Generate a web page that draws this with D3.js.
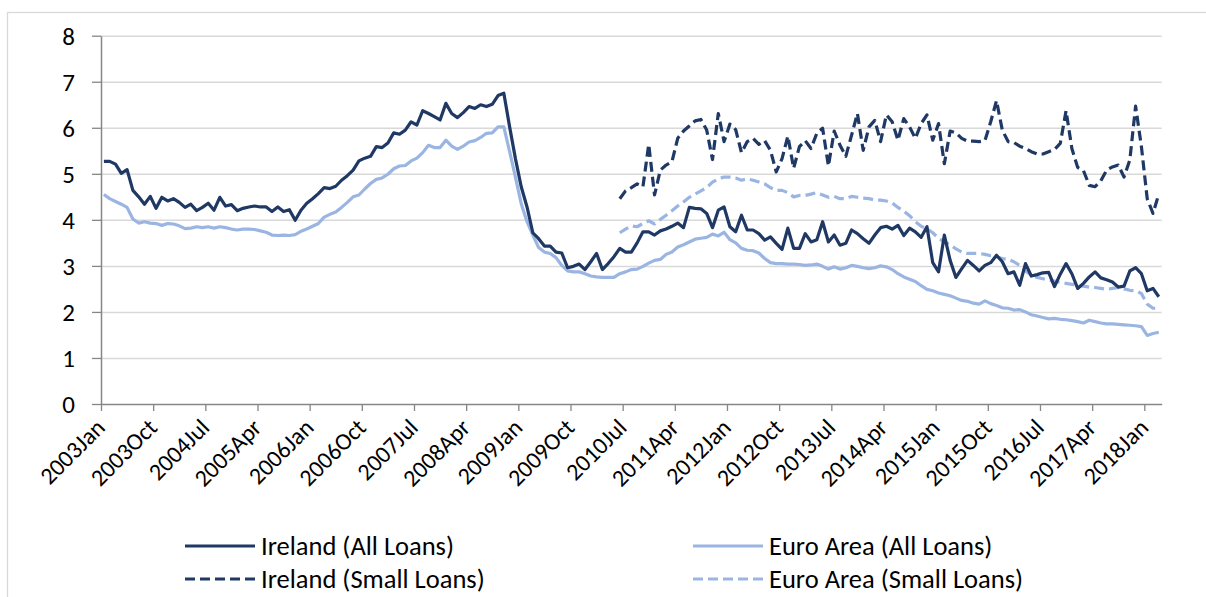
<!DOCTYPE html>
<html lang="en">
<head>
<meta charset="UTF-8">
<title>Interest rates on new loans</title>
<style>
  body { margin: 0; padding: 0; background: #fff; }
  svg text { font-family: Carlito, Lato, "Noto Sans", sans-serif; fill: #000; }
</style>
</head>
<body>
<div id="chart"></div>
<script src="https://cdn.jsdelivr.net/npm/d3@7"></script>
<script>
// monthly categories 2003Jan .. 2018Mar
const monthNames = ['Jan','Feb','Mar','Apr','May','Jun','Jul','Aug','Sep','Oct','Nov','Dec'];
const months = d3.range(183).map(i => (2003 + Math.floor(i / 12)) + monthNames[i % 12]);

const tickLabels = ['2003Jan','2003Oct','2004Jul','2005Apr','2006Jan','2006Oct','2007Jul',
  '2008Apr','2009Jan','2009Oct','2010Jul','2011Apr','2012Jan','2012Oct','2013Jul','2014Apr',
  '2015Jan','2015Oct','2016Jul','2017Apr','2018Jan'];
const yTicks = [0, 1, 2, 3, 4, 5, 6, 7, 8];

const irelandAll = [
  5.27,5.27,5.21,5.01,5.09,4.64,4.50,4.34,4.51,4.25,4.49,4.41,4.46,4.38,4.27,4.34,4.20,4.27,4.36,4.21,4.49,4.30,4.33,4.20,4.25,4.28,
  4.30,4.28,4.28,4.18,4.28,4.18,4.22,3.99,4.21,4.36,4.46,4.57,4.70,4.68,4.73,4.86,4.96,5.08,5.28,5.34,5.38,5.59,5.57,5.67,5.89,5.86,
  5.95,6.13,6.06,6.37,6.31,6.24,6.17,6.53,6.31,6.22,6.33,6.46,6.42,6.50,6.46,6.51,6.70,6.75,6.02,5.33,4.72,4.28,3.72,3.59,3.43,3.43,
  3.30,3.28,2.96,2.99,3.04,2.92,3.09,3.27,2.92,3.05,3.20,3.38,3.30,3.30,3.50,3.74,3.74,3.67,3.76,3.80,3.86,3.93,3.83,4.27,4.25,4.24,
  4.14,3.83,4.21,4.28,3.85,3.74,4.10,3.78,3.78,3.70,3.56,3.63,3.49,3.36,3.82,3.38,3.38,3.70,3.52,3.57,3.96,3.52,3.67,3.45,3.49,
  3.78,3.70,3.59,3.49,3.67,3.83,3.86,3.80,3.88,3.66,3.82,3.74,3.62,3.85,3.07,2.87,3.67,3.12,2.75,2.94,3.12,3.01,2.89,3.01,3.07,3.23,
  3.09,2.83,2.87,2.58,3.05,2.78,2.81,2.85,2.86,2.55,2.82,3.05,2.83,2.51,2.62,2.76,2.87,2.74,2.70,2.65,2.54,2.56,2.89,2.96,2.83,2.46,2.51,2.33
];

const euroAll = [
  4.55,4.46,4.40,4.34,4.27,4.02,3.93,3.96,3.93,3.92,3.88,3.92,3.91,3.87,3.81,3.82,3.85,3.83,3.85,3.82,3.85,3.83,3.80,3.78,3.80,3.80,
  3.79,3.76,3.73,3.67,3.66,3.67,3.66,3.68,3.75,3.80,3.86,3.92,4.06,4.12,4.17,4.27,4.38,4.50,4.54,4.67,4.79,4.88,4.91,4.99,5.11,5.17,
  5.18,5.28,5.34,5.46,5.62,5.57,5.57,5.73,5.60,5.53,5.60,5.69,5.72,5.79,5.88,5.89,6.02,6.02,5.48,4.93,4.35,3.96,3.67,3.40,3.30,3.27,
  3.18,3.01,2.89,2.87,2.87,2.83,2.78,2.76,2.75,2.75,2.75,2.83,2.87,2.92,2.93,2.99,3.06,3.12,3.14,3.25,3.30,3.41,3.46,3.52,3.58,3.60,
  3.62,3.69,3.65,3.73,3.57,3.50,3.38,3.34,3.33,3.28,3.16,3.07,3.05,3.05,3.04,3.04,3.03,3.01,3.02,3.04,2.99,2.93,2.98,2.93,2.96,
  3.01,2.99,2.96,2.94,2.96,3.00,2.98,2.92,2.83,2.76,2.71,2.66,2.57,2.49,2.46,2.41,2.38,2.35,2.30,2.25,2.23,2.19,2.17,2.24,2.18,2.14,
  2.09,2.08,2.04,2.05,2.00,1.94,1.91,1.88,1.85,1.86,1.84,1.83,1.81,1.79,1.76,1.82,1.79,1.76,1.74,1.74,1.73,1.72,1.71,1.70,1.68,1.49,1.53,1.56
];

// small-loan series start in 2010Jun
const smallStart = '2010Jun';
const irelandSmall = [
  4.46,4.63,4.70,4.78,4.72,5.64,4.54,5.08,5.19,5.26,5.77,5.93,6.04,6.15,6.18,
  5.95,5.31,6.31,5.70,6.08,5.96,5.46,5.70,5.77,5.64,5.72,5.51,5.04,5.33,5.82,5.12,5.59,5.72,5.55,5.88,5.99,5.17,5.93,5.62,5.38,
  5.84,6.31,5.51,6.02,6.16,5.70,6.28,6.13,5.73,6.20,6.02,5.77,6.09,6.28,5.73,6.09,5.22,5.93,5.89,5.77,5.71,5.71,5.70,5.72,6.13,6.59,
  5.95,5.70,5.68,5.60,5.55,5.48,5.43,5.43,5.48,5.53,5.66,6.37,5.55,5.14,5.07,4.75,4.72,4.85,5.08,5.15,5.19,4.93,5.30,6.47,5.59,4.46,4.14,4.56
];
const euroSmall = [
  3.72,3.80,3.87,3.85,3.92,3.98,3.91,4.01,4.10,4.20,4.30,4.39,4.49,4.56,4.63,
  4.70,4.82,4.89,4.93,4.93,4.91,4.86,4.89,4.86,4.82,4.78,4.70,4.64,4.64,4.59,4.50,4.53,4.53,4.56,4.59,4.54,4.49,4.51,4.46,4.46,
  4.51,4.49,4.47,4.46,4.43,4.43,4.41,4.37,4.27,4.19,4.09,3.96,3.86,3.81,3.72,3.60,3.52,3.46,3.37,3.30,3.27,3.27,3.27,3.25,3.22,3.20,
  3.16,3.14,3.09,3.01,2.89,2.80,2.75,2.72,2.69,2.67,2.64,2.62,2.60,2.57,2.56,2.54,2.53,2.51,2.49,2.51,2.53,2.50,2.47,2.46,2.40,2.17,2.08,2.08
];

const seriesNames = ['Ireland (All Loans)', 'Euro Area (All Loans)', 'Ireland (Small Loans)', 'Euro Area (Small Loans)'];

const darkBlue = '#1f3864';
const lightBlue = '#9bb5e3';
const gridColor = '#d9d9d9';
const axisColor = '#868686';

const W = 1206, H = 597;
const plotLeft = 101, plotRight = 1161.7, plotTop = 35.7, plotBottom = 404;

const svg = d3.select('#chart').append('svg')
  .attr('width', W).attr('height', H);

// outer chart frame
svg.append('rect')
  .attr('x', 7.5).attr('y', 12.5)
  .attr('width', 1300).attr('height', 700)
  .attr('fill', 'none').attr('stroke', gridColor).attr('stroke-width', 1.3);

const x = d3.scaleBand().domain(months).range([plotLeft, plotRight]).padding(0);
const xIdx = d3.scaleLinear().domain([0, months.length]).range([plotLeft, plotRight]);
const y = d3.scaleLinear().domain([0, 8]).range([plotBottom, plotTop]);
const bw = x.bandwidth();

// gridlines
svg.append('g')
  .attr('transform', `translate(${plotLeft},0)`)
  .call(d3.axisLeft(y).tickValues(yTicks.slice(1)).tickSize(-(plotRight - plotLeft)).tickFormat(''))
  .call(g => g.select('.domain').remove())
  .selectAll('line').attr('stroke', gridColor).attr('stroke-width', 1.5);

// y axis
const yAxis = svg.append('g')
  .attr('transform', `translate(${plotLeft},0)`)
  .call(d3.axisLeft(y).tickValues(yTicks).tickSize(9).tickPadding(17).tickSizeOuter(0));
yAxis.select('.domain').attr('stroke', axisColor).attr('stroke-width', 1.5);
yAxis.selectAll('line').attr('stroke', axisColor).attr('stroke-width', 1.3);
yAxis.selectAll('text').style('font-size', '25px').attr('dy', '0.35em');

// x axis
const xAxis = svg.append('g')
  .attr('transform', `translate(0,${plotBottom})`)
  .call(d3.axisBottom(xIdx)
    .tickValues(tickLabels.map(l => months.indexOf(l)))
    .tickFormat(i => months[i])
    .tickSize(7).tickSizeOuter(0));
xAxis.select('.domain').attr('stroke', axisColor).attr('stroke-width', 1.5);
xAxis.selectAll('line').attr('stroke', axisColor).attr('stroke-width', 1.3);
xAxis.selectAll('text')
  .style('font-size', '24px')
  .style('text-anchor', 'end')
  .attr('x', 0).attr('y', 0).attr('dy', 0)
  .attr('transform', 'translate(5,25) rotate(-45)');

// lines
const line = d3.line()
  .defined(d => d.v != null)
  .x(d => x(d.m) + bw / 2)
  .y(d => y(d.v));

const startIdx = months.indexOf(smallStart);
const toPoints = (vals, offset) => vals.map((v, i) => ({ m: months[i + offset], v: v }));

const series = [
  { name: seriesNames[1], pts: toPoints(euroAll, 0), color: lightBlue, dash: null },
  { name: seriesNames[3], pts: toPoints(euroSmall, startIdx), color: lightBlue, dash: '10,5' },
  { name: seriesNames[0], pts: toPoints(irelandAll, 0), color: darkBlue, dash: null },
  { name: seriesNames[2], pts: toPoints(irelandSmall, startIdx), color: darkBlue, dash: '10,5' }
];

svg.append('g').selectAll('path')
  .data(series)
  .join('path')
  .attr('d', d => line(d.pts))
  .attr('fill', 'none')
  .attr('stroke', d => d.color)
  .attr('stroke-width', 3.2)
  .attr('stroke-linejoin', 'round')
  .attr('stroke-dasharray', d => d.dash);

// legend
const legendItems = [
  { name: seriesNames[0], color: darkBlue, dash: null, x: 185, y: 546 },
  { name: seriesNames[1], color: lightBlue, dash: null, x: 693, y: 546 },
  { name: seriesNames[2], color: darkBlue, dash: '10,5', x: 185, y: 579 },
  { name: seriesNames[3], color: lightBlue, dash: '10,5', x: 693, y: 579 }
];
const lg = svg.append('g').selectAll('g')
  .data(legendItems)
  .join('g')
  .attr('transform', d => `translate(${d.x},${d.y})`);
lg.append('line')
  .attr('x1', 0).attr('x2', 70).attr('y1', 0).attr('y2', 0)
  .attr('stroke', d => d.color).attr('stroke-width', 3.2)
  .attr('stroke-dasharray', d => d.dash);
lg.append('text')
  .attr('x', 76).attr('y', 0).attr('dy', '0.35em')
  .style('font-size', '26.5px')
  .text(d => d.name);
</script>
</body>
</html>
